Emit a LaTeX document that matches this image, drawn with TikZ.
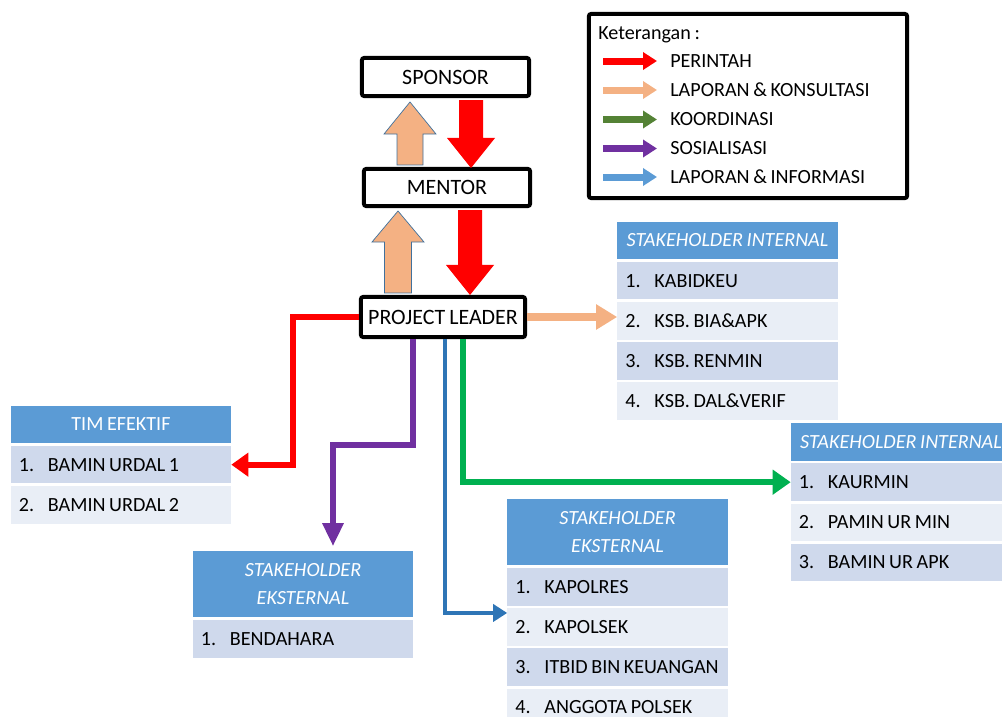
\documentclass[tikz,border=0pt]{standalone}
\usepackage{fontspec}
\setmainfont{Carlito}[WordSpace=0.8]
\usetikzlibrary{positioning, calc, arrows.meta}

\definecolor{hdrblue}{HTML}{5B9BD5}
\definecolor{rowdark}{HTML}{CFD9EC}
\definecolor{rowlight}{HTML}{E9EEF6}
\definecolor{orng}{HTML}{F4B183}
\definecolor{purp}{HTML}{7030A0}
\definecolor{lnblue}{HTML}{2E75B6}
\definecolor{grn}{HTML}{00B050}
\definecolor{leggreen}{HTML}{548235}
\definecolor{arrowedge}{HTML}{41719C}

\newcommand{\dfont}{\fontsize{14.3}{17}\selectfont}
\newcommand{\bfnt}{\fontsize{15.6}{18}\selectfont}
\newcommand{\itm}[2]{\makebox[5.1cm][l]{\makebox[0.725cm][l]{#1}#2}}
% block arrow: style, start, tip, half shaft, half head, head length
\newcommand{\fatarrow}[6]{%
  \filldraw[#1] ($(#2)+(-#4,0)$) -- ($(#3)+(-#4,#6)$) -- ($(#3)+(-#5,#6)$) -- (#3)
    -- ($(#3)+(#5,#6)$) -- ($(#3)+(#4,#6)$) -- ($(#2)+(#4,0)$) -- cycle;}

\tikzset{
  box/.style={draw, line width=0.1cm, rounded corners=1.5pt, inner sep=0pt, font=\bfnt},
  hdr/.style={fill=hdrblue, text=white, minimum width=5.5cm, minimum height=0.94cm,
    inner sep=0pt, align=center, font=\fontsize{14.3}{20}\selectfont\itshape},
  rowa/.style={fill=rowdark, minimum width=5.5cm, inner xsep=0.2cm, inner ysep=0pt,
    minimum height=0.94cm},
  rowb/.style={rowa, fill=rowlight},
  legtxt/.style={anchor=west, inner sep=0pt},
  legarrow/.style={line width=0.175cm, -{Triangle[width=0.425cm,length=0.35cm]}},
  link/.style={line width=#1},
  fatorange/.style={fill=orng, draw=arrowedge, line width=0.5pt},
  fatred/.style={fill=red, draw=none}
}

\begin{document}
\begin{tikzpicture}[x=0.025cm, y=-0.025cm, font=\dfont]
\useasboundingbox (0,0) rectangle (1002,717);

% the legend
\node[box, font=\dfont, minimum width=7.95cm, minimum height=4.6cm] (legbox) at (748,106) {};
\node[legtxt, anchor=base west] (ket) at (598,39) {Keterangan :};
\node[legtxt] (l1) at (670,61) {PERINTAH};
\node[legtxt] (l2) at (670,90) {LAPORAN \& KONSULTASI};
\node[legtxt] (l3) at (670,119.5) {KOORDINASI};
\node[legtxt] (l4) at (670,148.5) {SOSIALISASI};
\node[legtxt] (l5) at (670,177) {LAPORAN \& INFORMASI};
\foreach \n/\c in {l1/red, l2/orng, l3/leggreen, l4/purp, l5/hdrblue}
  \draw[legarrow, \c] ($(\n.west)+(-67,0)$) -- ($(\n.west)+(-13,0)$);

% sponsor, mentor and project leader
\node[box, minimum width=4.175cm, minimum height=0.95cm] (spon) at (445.5,77) {SPONSOR};
\node[box, minimum width=4.15cm, minimum height=0.925cm] (men) at (447,187.5) {MENTOR};
\node[box, minimum width=4.1cm, minimum height=1cm] (pl) at (443,317) {PROJECT LEADER};

% the block arrows between them
\coordinate (u1s) at ($(men.north)+(-37,-2)$);
\coordinate (u1e) at ($(u1s |- spon.south)+(0,4)$);
\coordinate (d1s) at ($(spon.south)+(25.5,2)$);
\coordinate (d1e) at ($(d1s |- men.north)+(0,1)$);
\coordinate (u2s) at ($(pl.north)+(-45,-2)$);
\coordinate (u2e) at ($(u2s |- men.south)+(0,3)$);
\coordinate (d2s) at ($(men.south)+(23,2)$);
\coordinate (d2e) at (d2s |- pl.north);
\fatarrow{fatorange}{u1s}{u1e}{13}{26}{32}
\fatarrow{fatred}{d1s}{d1e}{12}{24}{-30}
\fatarrow{fatorange}{u2s}{u2e}{13.5}{26}{31}
\fatarrow{fatred}{d2s}{d2e}{12}{24}{-30}

% stakeholder internal (top)
\node[hdr] (sih) at (727.5,240.5) {STAKEHOLDER INTERNAL};
\node[rowa, below=0.05cm of sih] (si1) {\itm{1.}{KABIDKEU}};
\node[rowb, below=0.05cm of si1] (si2) {\itm{2.}{KSB. BIA\&APK}};
\node[rowa, below=0.05cm of si2] (si3) {\itm{3.}{KSB. RENMIN}};
\node[rowb, below=0.05cm of si3] (si4) {\itm{4.}{KSB. DAL\&VERIF}};

% tim efektif
\node[hdr, font=\dfont] (teh) at (121,424.5) {TIM EFEKTIF};
\node[rowa, below=0.05cm of teh] (te1) {\itm{1.}{BAMIN URDAL 1}};
\node[rowb, below=0.05cm of te1] (te2) {\itm{2.}{BAMIN URDAL 2}};

% stakeholder eksternal (left)
\node[hdr, minimum height=1.625cm] (seh) at (303,584) {STAKEHOLDER\\EKSTERNAL};
\node[rowa, below=0.075cm of seh] (se1) {\itm{1.}{BENDAHARA}};

% stakeholder eksternal (middle)
\node[hdr, minimum height=1.625cm] (meh) at (617.5,532) {STAKEHOLDER\\EKSTERNAL};
\node[rowa, below=0.075cm of meh] (me1) {\itm{1.}{KAPOLRES}};
\node[rowb, below=0.05cm of me1] (me2) {\itm{2.}{KAPOLSEK}};
\node[rowa, below=0.05cm of me2] (me3) {\itm{3.}{ITBID BIN KEUANGAN}};
\node[rowb, below=0.05cm of me3] (me4) {\itm{4.}{ANGGOTA POLSEK}};

% stakeholder internal (right)
\node[hdr] (srh) at (901,442) {STAKEHOLDER INTERNAL};
\node[rowa, below=0.05cm of srh] (sr1) {\itm{1.}{KAURMIN}};
\node[rowb, below=0.05cm of sr1] (sr2) {\itm{2.}{PAMIN UR MIN}};
\node[rowa, below=0.05cm of sr2] (sr3) {\itm{3.}{BAMIN UR APK}};

% the connectors
\coordinate (pe) at ($(seh.north)+(30,-5)$);
\coordinate (be) at ($(me2.north west)+(0,5)$);
\draw[link=0.15cm, red, -{Triangle[width=0.575cm,length=0.425cm]}] (pl.west) -- ++(-66,0) |- (te1.east);
\draw[link=0.2cm, orng, -{Triangle[width=0.6cm,length=0.525cm]}] (pl.east) -- (pl.east -| si2.west);
\draw[link=0.15cm, purp, -{Triangle[width=0.5cm,length=0.575cm]}] ($(pl.south)+(-30,0)$) -- ++(0,106) -| (pe);
\draw[link=0.1cm, lnblue, -{Triangle[width=0.425cm,length=0.35cm]}] ($(pl.south)+(1.5,0)$) |- (be);
\draw[link=0.15cm, grn, -{Triangle[width=0.6cm,length=0.45cm]}] ($(pl.south)+(20,0)$) |- (sr1.west);
\end{tikzpicture}
\end{document}
